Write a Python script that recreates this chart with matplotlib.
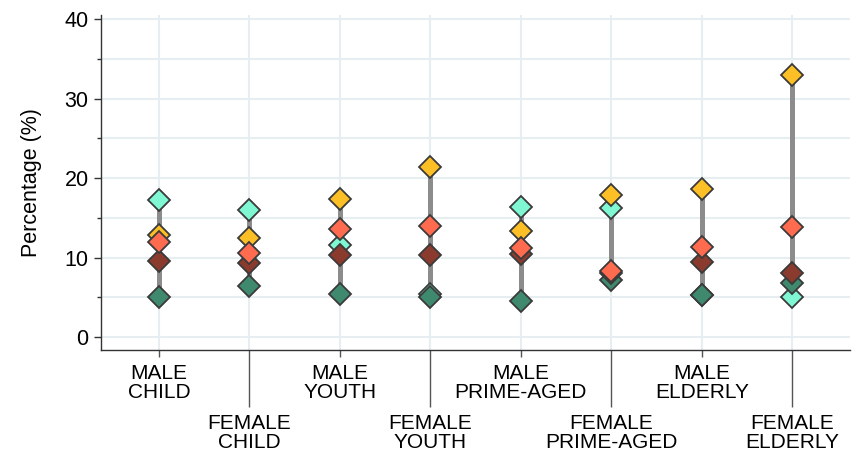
import matplotlib.pyplot as plt

# категории (мужские на нечётных позициях, женские на чётных)
categories = ['MALE\nCHILD', 'FEMALE\nCHILD', 'MALE\nYOUTH', 'FEMALE\nYOUTH',
              'MALE\nPRIME-AGED', 'FEMALE\nPRIME-AGED', 'MALE\nELDERLY', 'FEMALE\nELDERLY']

# значения серий (%)
aqua_vals = [17.3, 16.0, 11.6, 5.5, 16.35, 16.2, 5.3, 5.1]
green_vals = [5.0, 6.4, 5.45, 5.1, 4.5, 7.2, 5.35, 6.8]
gold_vals = [12.9, 12.5, 17.4, 21.4, 13.4, 17.9, 18.65, 33.0]
brown_vals = [9.6, 9.3, 10.35, 10.35, 10.5, 8.1, 9.4, 8.1]
tomato_vals = [12.0, 10.6, 13.6, 14.0, 11.2, 8.3, 11.4, 13.9]

plt.rcParams['font.family'] = ['Liberation Sans', 'DejaVu Sans']

fig = plt.figure(figsize=(8.61, 4.54), dpi=100)
ax = fig.add_axes([101 / 861, 1 - 350 / 454, 749 / 861, 335 / 454])

x = list(range(1, len(categories) + 1))

# --- серые вертикальные диапазоны ---
all_series = [aqua_vals, green_vals, gold_vals, brown_vals, tomato_vals]
lows = [min(v) for v in zip(*all_series)]
highs = [max(v) for v in zip(*all_series)]
ax.vlines(x, lows, highs, color='#8c8c8c', lw=3.6, zorder=2)

# --- ромбы ---
series = [
    (aqua_vals, '#7ff7d3'),
    (gold_vals, '#fdbf26'),
    (green_vals, '#3f8a6f'),
    (brown_vals, '#8b3a2e'),
    (tomato_vals, '#ff6b4f'),
]
for i, (vals, col) in enumerate(series):
    ax.plot(x, vals, linestyle='none', marker='D', ms=11.5, mfc=col,
            mec='#3a3a3a', mew=1.3, zorder=3 + i)

# --- оси ---
ax.set_xlim(0.359, 8.638)
ax.set_ylim(-1.6, 40.5)

ax.set_yticks([0, 10, 20, 30, 40])
ax.set_yticks([5, 15, 25, 35], minor=True)
ax.tick_params(axis='y', which='major', length=5, width=1, color='#333333',
               labelsize=15.5, pad=4)
ax.tick_params(axis='y', which='minor', length=3, width=1, color='#333333')

ax.set_xticks(x[0::2])
ax.set_xticklabels(categories[0::2])
ax.set_xticks(x[1::2], minor=True)
ax.set_xticklabels(categories[1::2], minor=True)
ax.tick_params(axis='x', which='major', length=5, width=1, color='#555555',
               labelsize=15, pad=5)
ax.tick_params(axis='x', which='minor', length=41, width=1, color='#555555',
               labelsize=15, pad=5)
for lab in ax.get_xticklabels(which='both'):
    lab.set_linespacing(1.0)

ax.set_ylabel('Percentage (%)', fontsize=15.5, labelpad=16)

for s in ['top', 'right']:
    ax.spines[s].set_visible(False)
for s in ['left', 'bottom']:
    ax.spines[s].set_color('#333333')
    ax.spines[s].set_linewidth(1)

# --- сетка ---
for yv in [0, 5, 10, 15, 20, 25, 30, 35, 40]:
    ax.axhline(yv, color='#e6eef1', lw=1.5, zorder=0)
for xv in x:
    ax.axvline(xv, color='#e6eef1', lw=1.5, zorder=0)

fig.savefig('out.png', dpi=100)
